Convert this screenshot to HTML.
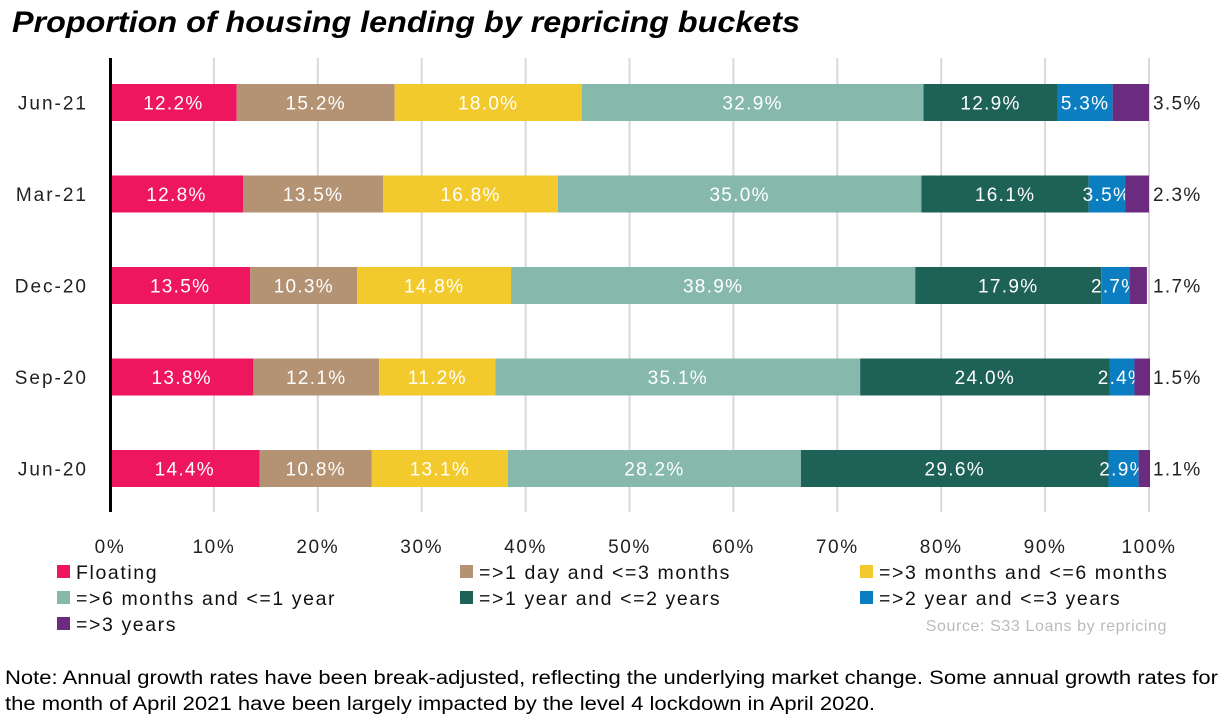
<!DOCTYPE html>
<html><head><meta charset="utf-8"><style>
body{margin:0;background:#fff;width:1226px;height:721px;overflow:hidden;font-family:"Liberation Sans",sans-serif}
</style></head><body>
<svg id="chart" width="1226" height="721" xmlns="http://www.w3.org/2000/svg" font-family="Liberation Sans, sans-serif">
<text x="12" y="32" font-size="30" font-weight="bold" font-style="italic" fill="#000" textLength="788" lengthAdjust="spacingAndGlyphs">Proportion of housing lending by repricing buckets</text>
<g id="grid"></g><g id="bars"></g><g id="ticks"></g><g id="legend"></g>
<line x1="110.5" y1="58" x2="110.5" y2="512" stroke="#000" stroke-width="3"/>
<text x="1167" y="631" font-size="16" fill="#bbb" text-anchor="end" letter-spacing="0.6">Source: S33 Loans by repricing</text>
<text x="5" y="684" font-size="19" fill="#000" textLength="1213" lengthAdjust="spacingAndGlyphs">Note: Annual growth rates have been break-adjusted, reflecting the underlying market change. Some annual growth rates for</text>
<text x="5" y="710" font-size="19" fill="#000" textLength="870" lengthAdjust="spacingAndGlyphs">the month of April 2021 have been largely impacted by the level 4 lockdown in April 2020.</text>
</svg>
<script>
const categories=["Jun-21","Mar-21","Dec-20","Sep-20","Jun-20"];
const seriesNames=["Floating","=>1 day and <=3 months","=>3 months and <=6 months","=>6 months and <=1 year","=>1 year and <=2 years","=>2 year and <=3 years","=>3 years"];
const floating=[12.2,12.8,13.5,13.8,14.4];
const day1to3m=[15.2,13.5,10.3,12.1,10.8];
const m3to6=[18.0,16.8,14.8,11.2,13.1];
const m6to1y=[32.9,35.0,38.9,35.1,28.2];
const y1to2=[12.9,16.1,17.9,24.0,29.6];
const y2to3=[5.3,3.5,2.7,2.4,2.9];
const y3plus=[3.5,2.3,1.7,1.5,1.1];
const tickLabels=["0%","10%","20%","30%","40%","50%","60%","70%","80%","90%","100%"];
const series=[floating,day1to3m,m3to6,m6to1y,y1to2,y2to3,y3plus];
const colors=["#EE165E","#B39374","#F2CA2D","#86B8AB","#1D6157","#0A7EC0","#6B2C80"];
const NS="http://www.w3.org/2000/svg";
const X0=110,X1=1149;
const xs=v=>X0+(X1-X0)*v/100;
const yc=i=>102.5+i*91.5;
const BH=37;
function mk(t,a,p){const e=document.createElementNS(NS,t);for(const k in a)e.setAttribute(k,a[k]);p.appendChild(e);return e;}
const grid=document.getElementById('grid'),bars=document.getElementById('bars'),ticks=document.getElementById('ticks'),legend=document.getElementById('legend');
tickLabels.forEach((t,i)=>{
 const x=xs(i*10);
 if(i>0){const g=mk('line',{x1:x,x2:x,y1:58,y2:512,stroke:'#d9d9d9','stroke-width':2},grid);
 
 }
 const tx=mk('text',{x:x,y:553,'font-size':19,'letter-spacing':1.6,'text-anchor':'middle',fill:'#222'},ticks);tx.textContent=t;
 
 
});
categories.forEach((c,i)=>{
 const y=yc(i);
 const lab=mk('text',{x:88,y:y+7,'font-size':19,'letter-spacing':2,'text-anchor':'end',fill:'#222'},ticks);lab.textContent=c;
 
 
 let cum=0;
 series.forEach((s,j)=>{
  const v=s[i];const a=xs(cum),b=xs(cum+v);cum+=v;
  const r=mk('rect',{x:a,y:y-BH/2,width:Math.max(0,b-a),height:BH,fill:colors[j]},bars);
  
  
  const last=j===series.length-1;
  const t=mk('text',{x:last?X1+4:(a+b)/2,y:y+7,'font-size':19,'letter-spacing':1.3,'text-anchor':last?'start':'middle',fill:last?'#222':'#fff'},bars);
  t.textContent=v.toFixed(1)+'%';
  
  
 });
});
const lx=[57,460,860],ly=[572,598,624];
seriesNames.forEach((n,k)=>{
 const x=lx[k%3],y=ly[Math.floor(k/3)];
 const g=mk('g',{},legend);
 
 
 mk('rect',{x:x,y:y-7,width:13,height:13,fill:colors[k]},g);
 const t=mk('text',{x:x+19,y:y+7,'font-size':19.5,'letter-spacing':1.6,fill:'#111'},g);t.textContent=n;
});
</script>
</body></html>
